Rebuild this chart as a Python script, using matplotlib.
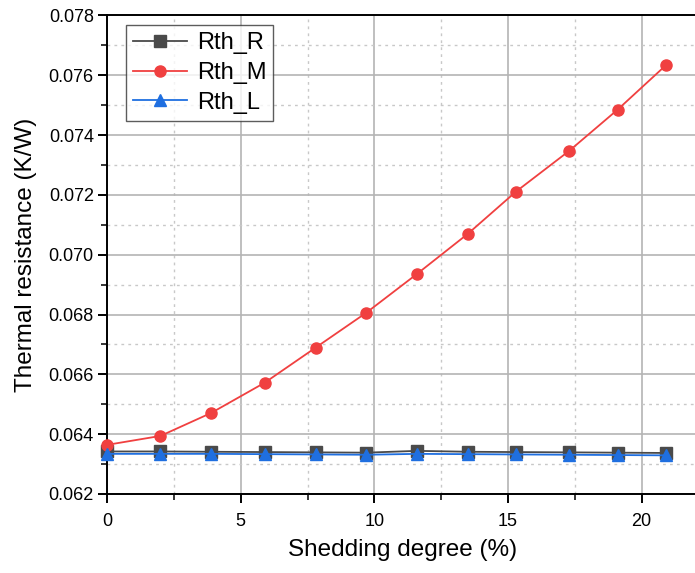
import matplotlib
matplotlib.use("Agg")
import matplotlib.pyplot as plt
from matplotlib.ticker import MultipleLocator

plt.rcParams['font.family'] = ['Liberation Sans', 'DejaVu Sans']

# données
degre = [0, 2.0, 3.9, 5.9, 7.8, 9.7, 11.6, 13.5, 15.3, 17.3, 19.1, 20.9]
rth_R = [0.06342, 0.06342, 0.06341, 0.06340, 0.06339, 0.06338,
         0.06344, 0.06341, 0.06340, 0.06339, 0.06338, 0.06337]
rth_M = [0.06364, 0.06394, 0.06471, 0.06572, 0.06689, 0.06806,
         0.06936, 0.07070, 0.07211, 0.07348, 0.07485, 0.07633]
rth_L = [0.06334, 0.06334, 0.06334, 0.06333, 0.06332, 0.06331,
         0.06334, 0.06333, 0.06332, 0.06331, 0.06330, 0.06329]

fig = plt.figure(figsize=(6.95, 5.73), dpi=100)
ax = fig.add_axes([0.154, 0.138, 0.85, 0.835])

ax.plot(degre, rth_R, color='#4a4a4a', lw=1.3, marker='s', ms=8, label='Rth_R', clip_on=False, zorder=3)
ax.plot(degre, rth_M, color='#f04040', lw=1.3, marker='o', ms=8, label='Rth_M', clip_on=False, zorder=4)
ax.plot(degre, rth_L, color='#1f6fe0', lw=1.3, marker='^', ms=8, label='Rth_L', clip_on=False, zorder=5)

ax.set_xlim(0, 22.1)
ax.set_ylim(0.062, 0.078)
ax.xaxis.set_major_locator(MultipleLocator(5))
ax.xaxis.set_minor_locator(MultipleLocator(2.5))
ax.yaxis.set_major_locator(MultipleLocator(0.002))
ax.yaxis.set_minor_locator(MultipleLocator(0.001))
ax.yaxis.set_major_formatter(matplotlib.ticker.FormatStrFormatter('%.3f'))

ax.grid(which='major', color='#b4b4b4', lw=1.2)
ax.grid(which='minor', color='#c8c8c8', lw=1.0, ls=(0, (2, 3)))
ax.set_axisbelow(True)

ax.spines['right'].set_visible(False)
for s in ['left', 'bottom', 'top']:
    ax.spines[s].set_linewidth(1.4)
ax.tick_params(which='major', direction='out', length=6.5, width=1.4, labelsize=13, pad=3)
ax.tick_params(axis='x', which='major', pad=7)
ax.tick_params(which='minor', direction='out', length=4, width=1.1)

ax.set_xlabel('Shedding degree (%)', fontsize=17.5, labelpad=7)
ax.set_ylabel('Thermal resistance (K/W)', fontsize=17.5, labelpad=8)

leg = ax.legend(loc='upper left', bbox_to_anchor=(0.032, 0.98), fontsize=17, frameon=True,
                fancybox=False, edgecolor='#333333', handlelength=2.3, borderpad=0.3,
                labelspacing=0.33, handletextpad=0.4, borderaxespad=0.0)
leg.get_frame().set_linewidth(1.0)

fig.savefig('out.png', dpi=100)
